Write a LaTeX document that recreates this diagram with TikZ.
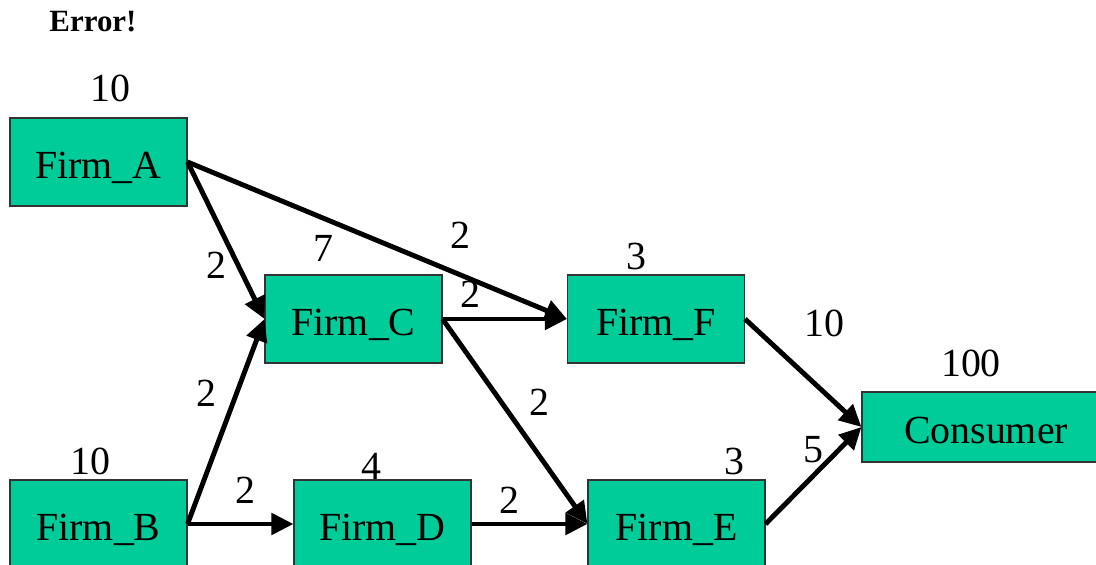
\documentclass[tikz,border=0pt]{standalone}
\usepackage{fontspec}
\setmainfont{Liberation Serif}
\usetikzlibrary{arrows.meta}

\definecolor{firmgreen}{RGB}{0,204,153}

\begin{document}
\begin{tikzpicture}[
  firm/.style={draw=black!80,line width=0.6pt,fill=firmgreen,minimum width=3.54cm,minimum height=1.76cm,inner sep=0pt,text height=18.4pt,text depth=0pt,font=\fontsize{22.7}{27}\selectfont},
  num/.style={inner sep=0pt,font=\fontsize{22.7}{27}\selectfont},
  flow/.style={line width=2.8pt,-{Triangle[length=0.44cm,width=0.42cm]}}]

\clip (0,0) rectangle (21.92,-11.3);

% --- title -------------------------------------------------------------
\node[inner sep=0pt,font=\fontsize{17.6}{21}\selectfont\bfseries] (err) at (1.86,-0.44) {Error!};

% --- firms -------------------------------------------------------------
\node[firm] (A) at (1.97,-3.24) {Firm\_A};
\node[firm] (C) at (7.07,-6.38) {Firm\_C};
\node[firm] (F) at (13.12,-6.38) {Firm\_F};
\node[firm] (B) at (1.97,-10.48) {Firm\_B};
\node[firm] (D) at (7.65,-10.48) {Firm\_D};
\node[firm] (E) at (13.53,-10.48) {Firm\_E};
\node[firm,minimum width=4.96cm,minimum height=1.4cm] (cons) at (19.72,-8.54) {Consumer};

% --- amounts -----------------------------------------------------------
\node[num] (nA) at (2.2,-1.77) {10};
\node[num] (nC) at (6.46,-4.96) {7};
\node[num] (nF) at (12.72,-5.12) {3};
\node[num] (nB) at (1.8,-9.22) {10};
\node[num] (nD) at (7.42,-9.32) {4};
\node[num] (nE) at (14.68,-9.22) {3};
\node[num] (ncons) at (19.42,-7.26) {100};

% --- flows -------------------------------------------------------------
\draw[flow] (A.east) -- (C.west);
\draw[flow] (A.east) -- (F.west);
\draw[flow] (B.east) -- (C.west);
\draw[flow] (B.east) -- (D.west);
\draw[flow] (C.east) -- (F.west);
\draw[flow] (C.east) -- (E.west);
\draw[flow] (D.east) -- (E.west);
\draw[flow] (F.east) -- (cons.west);
\draw[flow] (E.east) -- (cons.west);

\node[num] (fAC) at (4.32,-5.3) {2};
\node[num] (fAF) at (9.2,-4.7) {2};
\node[num] (fCF) at (9.4,-5.88) {2};
\node[num] (fBC) at (4.12,-7.86) {2};
\node[num] (fBD) at (4.9,-9.8) {2};
\node[num] (fCE) at (10.78,-8.04) {2};
\node[num] (fDE) at (10.18,-10.0) {2};
\node[num] (fFcons) at (16.48,-6.46) {10};
\node[num] (fEcons) at (16.26,-9.0) {5};
\end{tikzpicture}
\end{document}
